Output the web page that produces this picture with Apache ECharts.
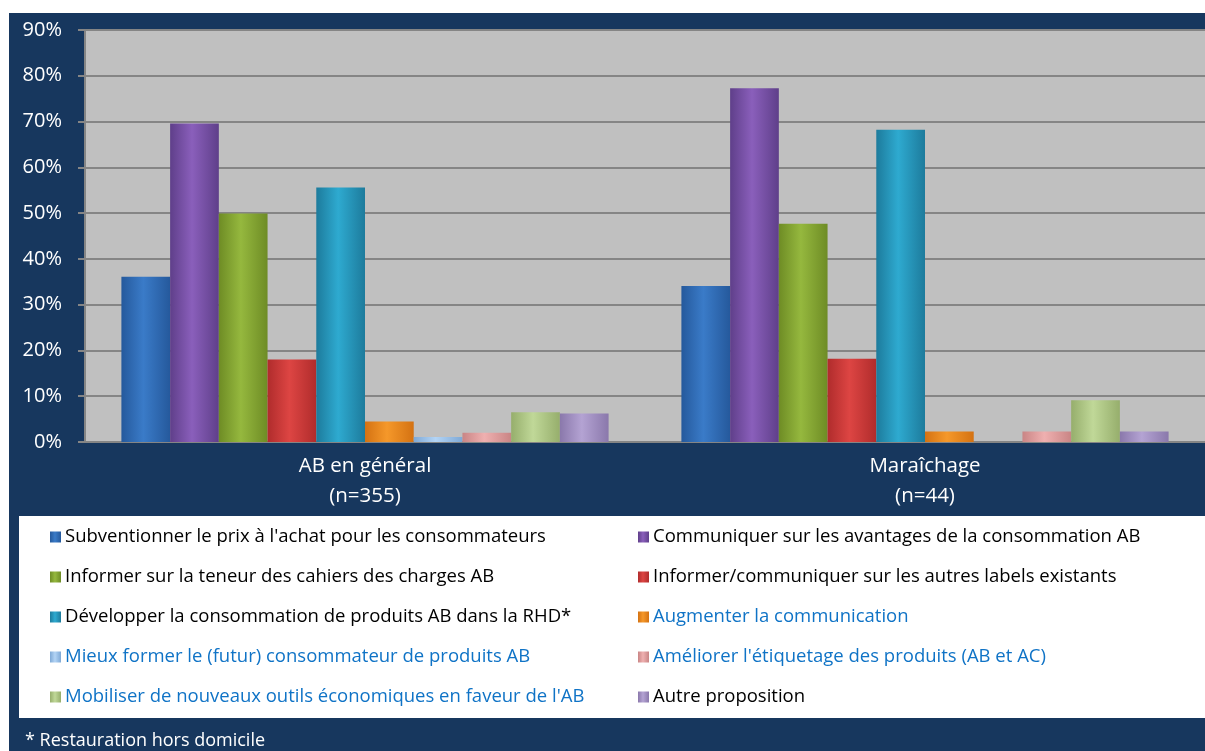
<!DOCTYPE html>
<html>
<head>
<meta charset="utf-8">
<script src="https://cdn.jsdelivr.net/npm/echarts@6/dist/echarts.min.js"></script>
<style>
  html, body { margin: 0; padding: 0; background: #ffffff; }
  #chart { width: 1205px; height: 751px; }
</style>
</head>
<body>
<div id="chart"></div>
<script>
// Categories (two lines each: group name and sample size)
const categories = ['AB en général\n(n=355)', 'Maraîchage\n(n=44)'];

// Proposals, in series order
const seriesNames = [
  "Subventionner le prix à l'achat pour les consommateurs",
  "Communiquer sur les avantages de la consommation AB",
  "Informer sur la teneur des cahiers des charges AB",
  "Informer/communiquer sur les autres labels existants",
  "Développer la consommation de produits AB dans la RHD*",
  "Augmenter la communication",
  "Mieux former le (futur) consommateur de produits AB",
  "Améliorer l'étiquetage des produits (AB et AC)",
  "Mobiliser de nouveaux outils économiques en faveur de l'AB",
  "Autre proposition"
];

// Share of respondents (%) per proposal: [AB en général, Maraîchage]
const subventionner = [36.1, 34.1];
const communiquerAvantages = [69.6, 77.3];
const informerCahiers = [49.9, 47.7];
const informerLabels = [18.0, 18.2];
const developperRHD = [55.6, 68.2];
const augmenterCommunication = [4.5, 2.3];
const mieuxFormer = [1.1, 0];
const ameliorerEtiquetage = [2.0, 2.3];
const mobiliserOutils = [6.5, 9.1];
const autreProposition = [6.2, 2.3];

const seriesValues = [
  subventionner, communiquerAvantages, informerCahiers, informerLabels,
  developperRHD, augmenterCommunication, mieuxFormer, ameliorerEtiquetage,
  mobiliserOutils, autreProposition
];

// Y-axis ticks (%)
const yTicks = [0, 10, 20, 30, 40, 50, 60, 70, 80, 90];

// Bar base colours: [edge, centre]
const barColors = [
  ['#25599c', '#3a7bc8'],
  ['#5f3f8a', '#8a5fbb'],
  ['#6e8c25', '#95b83e'],
  ['#b02c2c', '#dd4543'],
  ['#1d7b9c', '#2eaad0'],
  ['#d47212', '#f5982a'],
  ['#7fa9d6', '#b3d4f5'],
  ['#c98585', '#efb0b0'],
  ['#96ae6c', '#c0d898'],
  ['#8a78ab', '#b4a3d3']
];

// Legend text colours
const legendTextColors = [
  '#000000', '#000000', '#000000', '#000000', '#000000',
  '#0f73c6', '#0f73c6', '#0f73c6', '#0f73c6', '#000000'
];

const NAVY = '#17375e';
const FONT = '"Open Sans", Lato, sans-serif';

function barGradient(c) {
  return new echarts.graphic.LinearGradient(0, 0, 1, 0, [
    { offset: 0, color: c[0] },
    { offset: 0.45, color: c[1] },
    { offset: 1, color: c[0] }
  ]);
}

const chart = echarts.init(document.getElementById('chart'), null, { renderer: 'canvas' });

const series = seriesNames.map((name, i) => ({
  name: name,
  type: 'bar',
  data: seriesValues[i],
  barGap: '0%',
  barCategoryGap: '13%',
  itemStyle: { color: barGradient(barColors[i]) },
  emphasis: { disabled: true }
}));

function legendData(indices) {
  return indices.map(i => ({
    name: seriesNames[i],
    textStyle: { color: legendTextColors[i] }
  }));
}

const legendBase = {
  orient: 'vertical',
  top: 522,
  itemWidth: 11,
  itemHeight: 11,
  itemGap: 20,
  icon: 'rect',
  selectedMode: false,
  textStyle: { fontFamily: FONT, fontSize: 18.5, lineHeight: 20, padding: [0, 0, 0, -1] }
};

chart.setOption({
  backgroundColor: '#ffffff',
  animation: false,
  graphic: [
    { type: 'rect', z: -10, shape: { x: 9, y: 13, width: 1200, height: 740 }, style: { fill: NAVY } },
    { type: 'rect', z: -9, shape: { x: 19, y: 516, width: 1190, height: 202 }, style: { fill: '#ffffff' } },
    {
      type: 'text', left: 25, top: 732,
      style: { text: '* Restauration hors domicile', fill: '#ffffff', font: '18px ' + FONT }
    }
  ],
  grid: { left: 85, top: 30, width: 1124, height: 412, backgroundColor: '#c0c0c0', show: true, borderWidth: 0 },
  legend: [
    Object.assign({}, legendBase, { left: 45, data: legendData([0, 2, 4, 6, 8]) }),
    Object.assign({}, legendBase, { left: 633, data: legendData([1, 3, 5, 7, 9]) })
  ],
  xAxis: {
    type: 'category',
    data: categories,
    axisLine: { lineStyle: { color: '#858585', width: 2 } },
    axisTick: { inside: true, length: 7, lineStyle: { color: '#858585', width: 2 } },
    axisLabel: { color: '#ffffff', fontFamily: FONT, fontSize: 20.5, lineHeight: 30, margin: 9 }
  },
  yAxis: {
    type: 'value',
    min: yTicks[0],
    max: yTicks[yTicks.length - 1],
    interval: 10,
    axisLine: { show: true, lineStyle: { color: '#858585', width: 2 } },
    axisTick: { show: true, length: 7, lineStyle: { color: '#858585', width: 2 } },
    splitLine: { lineStyle: { color: '#858585', width: 2 } },
    axisLabel: { color: '#ffffff', fontFamily: FONT, fontSize: 20, margin: 23, formatter: '{value}%' }
  },
  series: series
});
</script>
</body>
</html>
